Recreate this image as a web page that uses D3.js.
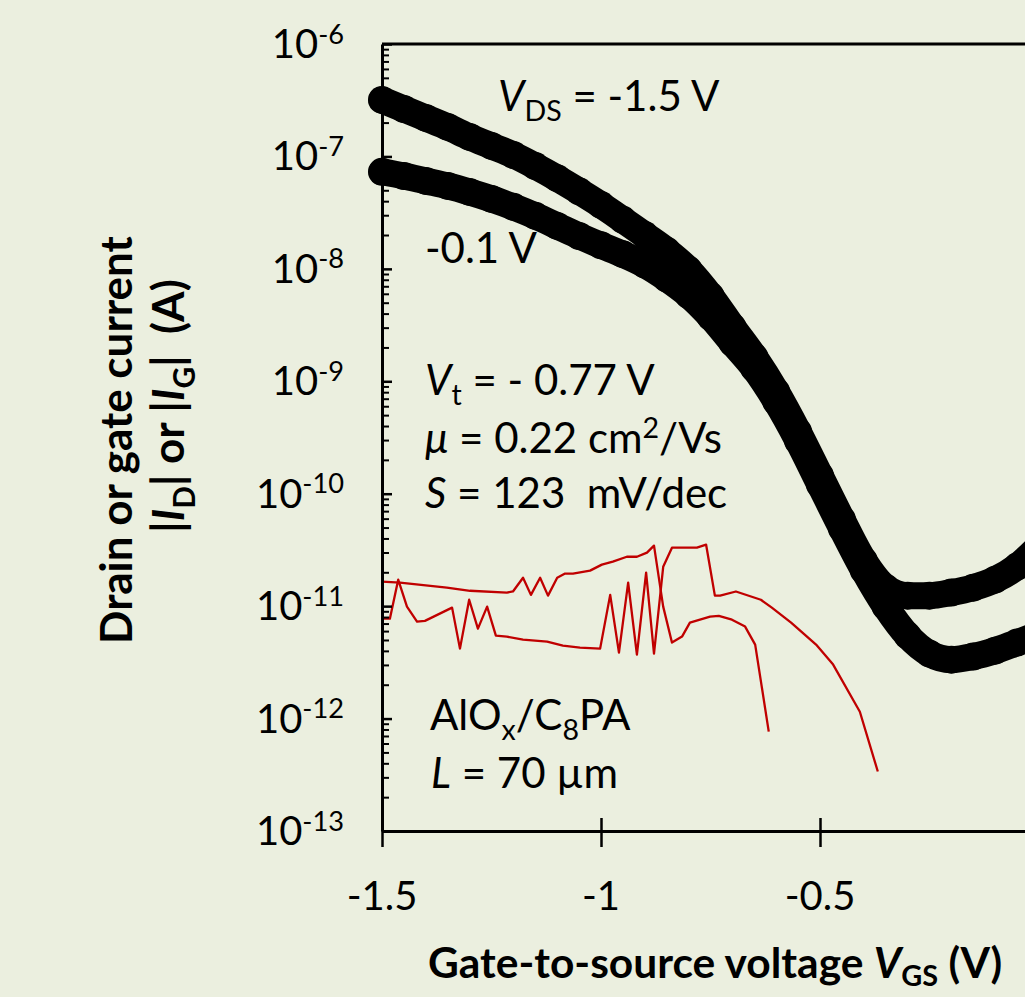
<!DOCTYPE html>
<html>
<head>
<meta charset="utf-8">
<script src="https://cdn.jsdelivr.net/npm/d3@7"></script>
<style>
    body { margin: 0; background: #ebefdf; }
    svg { display: block; font-family: Lato, "Open Sans", sans-serif; }
    text { white-space: pre; }
</style>
</head>
<body>
<div id="chart"></div>
<script>
// gate voltage grid of the drain-current sweeps (V)
const vgs = [-1.5, -1.45, -1.4, -1.35, -1.3, -1.25, -1.2, -1.15, -1.1, -1.05, -1.0, -0.95, -0.9, -0.85, -0.8,
    -0.75, -0.7, -0.65, -0.6, -0.55, -0.5, -0.45, -0.4, -0.35, -0.3, -0.25, -0.2, -0.15, -0.1, -0.05, 0];
// |ID| at VDS = -1.5 V (A)
const idVds15 = [3.18e-7, 2.64e-7, 2.2e-7, 1.83e-7, 1.49e-7, 1.24e-7, 1.03e-7, 8.2e-8, 6.4e-8, 4.9e-8, 3.7e-8,
    2.73e-8, 2.0e-8, 1.45e-8, 9.8e-9, 5.75e-9, 3.05e-9, 1.65e-9, 8.1e-10, 3.56e-10, 1.45e-10, 5.9e-11, 2.54e-11,
    1.46e-11, 1.24e-11, 1.24e-11, 1.32e-11, 1.46e-11, 1.72e-11, 2.25e-11, 3.4e-11];
// |ID| at VDS = -0.1 V (A)
const idVds01 = [7.3e-8, 6.7e-8, 6.05e-8, 5.47e-8, 4.83e-8, 4.19e-8, 3.56e-8, 2.96e-8, 2.41e-8, 1.96e-8, 1.62e-8,
    1.35e-8, 1.09e-8, 8.2e-9, 5.85e-9, 3.75e-9, 2.2e-9, 1.3e-9, 6.6e-10, 2.95e-10, 1.2e-10, 4.9e-11, 2.08e-11,
    9.9e-12, 5.47e-12, 3.78e-12, 3.34e-12, 3.56e-12, 4.02e-12, 4.74e-12, 5.58e-12];

// gate currents |IG| (A), red traces
const gateAV = [-1.5, -1.459, -1.352, -1.299, -1.215, -1.201, -1.178, -1.16, -1.139, -1.121, -1.1, -1.082, -1.064,
    -1.025, -0.998, -0.973, -0.941, -0.918, -0.895, -0.879, -0.858, -0.838, -0.815, -0.797, -0.774, -0.751, -0.731,
    -0.701, -0.671, -0.648, -0.617];
const gateA = [1.65e-11, 1.62e-11, 1.46e-11, 1.37e-11, 1.32e-11, 1.35e-11, 1.79e-11, 1.26e-11, 1.79e-11, 1.24e-11,
    1.79e-11, 1.95e-11, 1.95e-11, 2.07e-11, 2.34e-11, 2.49e-11, 2.75e-11, 2.75e-11, 2.99e-11, 3.45e-11, 9.9e-12,
    4.74e-12, 5.36e-12, 7.13e-12, 7.58e-12, 8.07e-12, 8.2e-12, 7.58e-12, 6.58e-12, 4.55e-12, 7.66e-13];
const gateBV = [-1.5, -1.482, -1.463, -1.443, -1.42, -1.402, -1.34, -1.322, -1.301, -1.281, -1.26, -1.24, -1.215,
    -1.178, -1.123, -1.087, -1.048, -1.002, -0.979, -0.959, -0.938, -0.918, -0.897, -0.879, -0.858, -0.838, -0.781,
    -0.76, -0.74, -0.728, -0.692, -0.635, -0.61, -0.566, -0.509, -0.47, -0.409, -0.368];
const gateB = [7.74e-12, 7.74e-12, 1.72e-11, 9.9e-12, 7.28e-12, 7.4e-12, 9.7e-12, 4.19e-12, 1.14e-11, 6.31e-12,
    9.9e-12, 5.47e-12, 5.35e-12, 5.04e-12, 4.83e-12, 4.45e-12, 4.28e-12, 4.19e-12, 1.26e-11, 3.86e-12, 1.62e-11,
    3.71e-12, 1.99e-11, 3.78e-12, 2.24e-11, 3.31e-11, 3.31e-11, 3.52e-11, 1.24e-11, 1.24e-11, 1.35e-11, 1.14e-11,
    9.7e-12, 7.13e-12, 4.55e-12, 3.02e-12, 1.15e-12, 3.38e-13];

// axis ticks (the 0 V tick sits just past the right edge of the picture)
const xTicks = [-1.5, -1, -0.5, 0];
const xTickLabels = ["-1.5", "-1", "-0.5"];
const yTickExps = [-6, -7, -8, -9, -10, -11, -12, -13];

const width = 1025;
const height = 997;
const fontSize = 40;
const noteSize = 42;
const titleSize = 44;

const svg = d3.select("#chart")
    .append("svg")
    .attr("width", width)
    .attr("height", height);

svg.append("rect").attr("width", width).attr("height", height).attr("fill", "#ebefdf");

const x = d3.scaleLinear().domain([-1.5, 0]).range([382, 1039]);
const y = d3.scaleLog().domain([1e-13, 1e-6]).range([831, 44]);

// text with italic / sub / sup runs
function rich(parent, px, py, parts, size, opts = {}) {
    const t = parent.append("text")
        .attr("x", px)
        .attr("y", py)
        .attr("font-size", size)
        .attr("fill", "#000")
        .attr("font-weight", opts.bold ? 700 : 400)
        .attr("text-anchor", opts.anchor || "start");
    if (opts.transform) t.attr("transform", opts.transform);
    let shift = 0;
    parts.forEach(p => {
        const s = t.append("tspan").text(p.t);
        const target = p.sub ? size * (opts.subShift || 0.24) : p.sup ? -size * 0.36 : 0;
        s.attr("dy", target - shift);
        shift = target;
        if (p.sub || p.sup) s.attr("font-size", size * 0.68);
        if (p.i) s.attr("font-style", "italic");
    });
    return t;
}

// gate-current traces
const gateLine = d3.line().x(d => x(d[0])).y(d => y(d[1]));
[[gateAV, gateA], [gateBV, gateB]].forEach(([vs, is]) => {
    svg.append("path")
        .datum(vs.map((v, i) => [v, is[i]]))
        .attr("fill", "none")
        .attr("stroke", "#c00000")
        .attr("stroke-width", 2.3)
        .attr("stroke-linejoin", "round")
        .attr("d", gateLine);
});

// drain-current sweeps, drawn as dense round markers
const drainLine = d3.line().x(d => x(d[0])).y(d => y(d[1])).curve(d3.curveMonotoneX);
[idVds15, idVds01].forEach(series => {
    const pts = vgs.map((v, i) => [v, series[i]]);
    svg.append("path")
        .datum(pts)
        .attr("fill", "none")
        .attr("stroke", "#000")
        .attr("stroke-width", 27)
        .attr("stroke-linecap", "round")
        .attr("stroke-linejoin", "round")
        .attr("d", drainLine);
    svg.append("g").selectAll("circle")
        .data(pts)
        .enter().append("circle")
        .attr("cx", d => x(d[0]))
        .attr("cy", d => y(d[1]))
        .attr("r", 14)
        .attr("fill", "#000");
});

// frame
svg.append("line")
    .attr("x1", x(-1.5)).attr("x2", x(0))
    .attr("y1", y(1e-6)).attr("y2", y(1e-6))
    .attr("stroke", "#000").attr("stroke-width", 3);
svg.append("line")
    .attr("x1", x(0)).attr("x2", x(0))
    .attr("y1", y(1e-6)).attr("y2", y(1e-13))
    .attr("stroke", "#000").attr("stroke-width", 3);

// y axis: ticks point into the plot
const minorTicks = [];
for (let e = -13; e < -6; e++) {
    for (let m = 2; m <= 9; m++) minorTicks.push(m * Math.pow(10, e));
}
const yAxisMinor = svg.append("g")
    .attr("transform", `translate(${x(-1.5)},0)`)
    .call(d3.axisRight(y).tickValues(minorTicks).tickSize(7).tickSizeOuter(0).tickFormat(""));
yAxisMinor.select(".domain").remove();
yAxisMinor.selectAll(".tick line").attr("stroke-width", 2);

const yAxisMajor = svg.append("g")
    .attr("transform", `translate(${x(-1.5)},0)`)
    .call(d3.axisRight(y).tickValues(yTickExps.map(e => Math.pow(10, e))).tickSize(10).tickSizeOuter(0).tickFormat(""));
yAxisMajor.select(".domain").attr("stroke-width", 3);
yAxisMajor.selectAll(".tick line").attr("stroke-width", 2.5);

yTickExps.forEach(e => {
    rich(svg, 344, y(Math.pow(10, e)) + 14, [{ t: "10" }, { t: String(e), sup: true }], fontSize, { anchor: "end" });
});

// x axis: ticks cross the axis line
const xAxis = svg.append("g")
    .attr("transform", `translate(0,${y(1e-13)})`)
    .call(d3.axisBottom(x).tickValues(xTicks).tickSize(16).tickSizeOuter(0).tickFormat(""));
xAxis.select(".domain").attr("stroke-width", 3);
xAxis.selectAll(".tick line").attr("y1", -13).attr("stroke-width", 2.5);

xTickLabels.forEach((lab, i) => {
    svg.append("text")
        .attr("x", x(xTicks[i]))
        .attr("y", 910)
        .attr("text-anchor", "middle")
        .attr("font-size", fontSize)
        .text(lab);
});

// axis titles
rich(svg, 428, 978, [
    { t: "Gate-to-source voltage " }, { t: "V", i: true }, { t: "GS", sub: true }, { t: " (V)" }
], 42.5, { bold: true, subShift: 0.18 });

rich(svg, 0, 0, [{ t: "Drain or gate current" }], titleSize,
    { bold: true, anchor: "middle", transform: "translate(132,440) rotate(-90)" });
rich(svg, 0, 0, [
    { t: "|" }, { t: "I", i: true }, { t: "D", sub: true }, { t: "| or |" }, { t: "I", i: true }, { t: "G", sub: true },
    { t: "|  (A)" }
], titleSize, { bold: true, anchor: "middle", transform: "translate(184,406) rotate(-90)" });

// annotations
rich(svg, 498, 111, [{ t: "V", i: true }, { t: "DS", sub: true }, { t: " = -1.5 V" }], noteSize);
rich(svg, 425, 263, [{ t: "-0.1 V" }], noteSize);
rich(svg, 425, 395, [{ t: "V", i: true }, { t: "t", sub: true }, { t: " = - 0.77 V" }], noteSize);
rich(svg, 425, 453, [{ t: "μ", i: true }, { t: " = 0.22 cm" }, { t: "2", sup: true }, { t: "/Vs" }], noteSize);
rich(svg, 425, 508, [{ t: "S", i: true }, { t: " = 123  mV/dec" }], noteSize);
rich(svg, 430, 730, [{ t: "AlO" }, { t: "x", sub: true }, { t: "/C" }, { t: "8", sub: true }, { t: "PA" }], noteSize);
rich(svg, 431, 788, [{ t: "L", i: true }, { t: " = 70 µm" }], noteSize);
</script>
</body>
</html>
